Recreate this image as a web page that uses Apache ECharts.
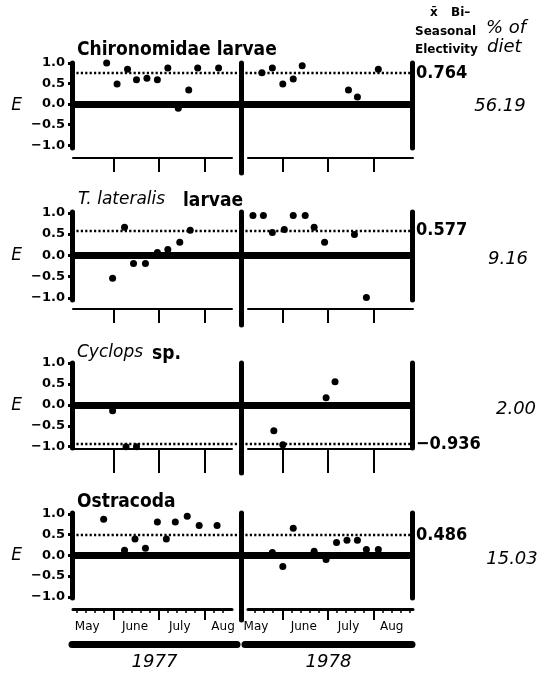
<!DOCTYPE html>
<html><head><meta charset="utf-8">
<script src="https://cdn.jsdelivr.net/npm/echarts@6/dist/echarts.min.js"></script>
<style>html,body{margin:0;padding:0;background:#fff}#c{width:549px;height:674px}</style>
</head><body><div id="c"></div>
<script>
// ---------------- data ----------------
const panelNames = ['Chironomidae larvae', 'T. lateralis larvae', 'Cyclops sp.', 'Ostracoda'];
const meanElectivity = [0.764, 0.577, -0.936, 0.486];
const percentDiet = ['56.19', '9.16', '2.00', '15.03'];
const years = ['1977', '1978'];

const chiroDates1977 = ['05-27','06-03','06-10','06-16','06-23','06-30','07-07','07-14','07-21','07-27','08-10'];
const chiroE1977     = [1.0, 0.49, 0.85, 0.59, 0.63, 0.59, 0.88, -0.1, 0.34, 0.88, 0.88];
const chiroDates1978 = ['05-18','05-25','06-01','06-08','06-14','07-15','07-21','08-04'];
const chiroE1978     = [0.76, 0.88, 0.49, 0.61, 0.93, 0.34, 0.17, 0.85];

const tlatDates1977 = ['05-31','06-08','06-14','06-22','06-30','07-07','07-15','07-22'];
const tlatE1977     = [-0.54, 0.66, -0.19, -0.19, 0.07, 0.14, 0.31, 0.59];
const tlatDates1978 = ['05-12','05-19','05-25','06-02','06-08','06-16','06-22','06-29','07-19','07-27'];
const tlatE1978     = [0.94, 0.94, 0.54, 0.61, 0.94, 0.94, 0.66, 0.31, 0.49, -0.99];

const cyclDates1977 = ['05-31','06-09','06-16'];
const cyclE1977     = [-0.14, -1.0, -1.0];
const cyclDates1978 = ['05-26','06-01','06-30','07-06'];
const cyclE1978     = [-0.62, -0.95, 0.17, 0.55];

const ostrDates1977 = ['05-25','06-08','06-15','06-22','06-30','07-06','07-12','07-20','07-28','08-09'];
const ostrE1977     = [0.87, 0.12, 0.39, 0.17, 0.8, 0.39, 0.8, 0.94, 0.72, 0.72];
const ostrDates1978 = ['05-25','06-01','06-08','06-22','06-30','07-07','07-14','07-21','07-27','08-04'];
const ostrE1978     = [0.07, -0.27, 0.65, 0.1, -0.1, 0.31, 0.36, 0.36, 0.14, 0.14];

const yTickValues = [-1, -0.5, 0, 0.5, 1];
const monthNames = ['May', 'June', 'July', 'Aug'];
const monthLabelDates = ['05-14', '06-15', '07-15', '08-13'];
const monthStartDates = ['06-01', '07-01', '08-01'];
const minorTickDates = ['05-07','05-13','05-19','05-25','06-07','06-13','06-19','06-25',
                        '07-07','07-13','07-19','07-25','08-07','08-13','08-19','08-25'];

const panelDates = [[chiroDates1977, chiroDates1978], [tlatDates1977, tlatDates1978],
                    [cyclDates1977, cyclDates1978], [ostrDates1977, ostrDates1978]];
const panelValues = [[chiroE1977, chiroE1978], [tlatE1977, tlatE1978],
                     [cyclE1977, cyclE1978], [ostrE1977, ostrE1978]];

// ---------------- layout ----------------
const L = {
  S: 1.4925,                 // px per day
  x0: [114.1, 282.8],        // px of 1 June for each year block
  plot: [[72, 241], [241, 412]],
  axisSpan: [[73, 232], [248, 413]],
  yearBar: [[72, 237], [245, 412]],
  yearBarY: 644,
  dividerX: 241,
  panels: [
    {top: 63,  bottom: 148, max: 1.0,  min: -1.07, lineY: 158, tickLen: 14, divBottom: 173, lineW: 2},
    {top: 212, bottom: 300, max: 1.02, min: -1.05, lineY: 309, tickLen: 14, divBottom: 325, lineW: 2},
    {top: 363, bottom: 448, max: 1.0,  min: -1.03, lineY: 449, tickLen: 24, divBottom: 473, lineW: 2},
    {top: 513, bottom: 598, max: 1.02, min: -1.03, lineY: 609, tickLen: 11, divBottom: 620, lineW: 3}
  ]
};
const CUM = [0,31,59,90,120,151,181,212,243,273,304,334];
function doy(s) { const [m, d] = s.split('-').map(Number); return CUM[m - 1] + d; }
function pxToDay(px, y) { return 152 + (px - L.x0[y]) / L.S; }

const FONT_COND = '"DejaVu Sans Condensed", "Liberation Sans Narrow", sans-serif';
const FONT_GEO = '"DejaVu Sans", sans-serif';
const FONT_IT = '"DejaVu Sans", sans-serif';

const grids = [], xAxes = [], yAxes = [], series = [], graphics = [];
function addGrid(g) { grids.push(Object.assign({outerBoundsMode: 'none'}, g)); return grids.length - 1; }
const hiddenY = gi => ({gridIndex: gi, type: 'value', min: 0, max: 1, show: false});
const hiddenX = gi => ({gridIndex: gi, type: 'value', min: 0, max: 1, show: false});

L.panels.forEach((P, p) => {
  for (let y = 0; y < 2; y++) {
    // ---- plot grid ----
    const gi = addGrid({left: L.plot[y][0], top: P.top, width: L.plot[y][1] - L.plot[y][0], height: P.bottom - P.top});
    const xi = xAxes.length;
    xAxes.push({gridIndex: gi, type: 'value', min: pxToDay(L.plot[y][0], y), max: pxToDay(L.plot[y][1], y), show: false});
    const yi = yAxes.length;
    if (y === 0) {
      yAxes.push({
        gridIndex: gi, type: 'value', min: P.min, max: P.max, position: 'left',
        name: 'E', nameLocation: 'middle', nameRotate: 0, nameGap: 50,
        nameTextStyle: {color: '#000', fontFamily: FONT_IT, fontStyle: 'italic', fontSize: 17},
        axisLine: {show: true, onZero: false, lineStyle: {color: '#000', width: 5}},
        axisTick: {show: true, customValues: yTickValues, length: 4, lineStyle: {color: '#000', width: 3}},
        axisLabel: {show: true, customValues: yTickValues, margin: 7, color: '#000',
          fontFamily: FONT_GEO, fontWeight: 'bold', fontSize: 13,
          formatter: v => (v < 0 ? '\u2212' : '') + Math.abs(v).toFixed(1)},
        splitLine: {show: false}
      });
    } else {
      yAxes.push({
        gridIndex: gi, type: 'value', min: P.min, max: P.max, position: 'right',
        axisLine: {show: true, onZero: false, lineStyle: {color: '#000', width: 5}},
        axisTick: {show: false}, axisLabel: {show: false}, splitLine: {show: false}
      });
    }
    const m = meanElectivity[p];
    series.push({
      type: 'line', xAxisIndex: xi, yAxisIndex: yi, data: [], z: 1, silent: true,
      markLine: {
        silent: true, symbol: 'none', animation: false,
        data: [
          {yAxis: 0, lineStyle: {color: '#000', width: 7, type: 'solid', opacity: 1}, label: {show: false}},
          {yAxis: m, lineStyle: {color: '#000', width: 2.4, type: [2.2, 2.2], opacity: 1},
           label: {show: y === 1, position: 'end', distance: 4, color: '#000',
             fontFamily: FONT_COND, fontWeight: 'bold', fontSize: 18,
             formatter: () => (m < 0 ? '\u2212' : '') + Math.abs(m).toFixed(3)}}
        ]
      }
    });
    series.push({
      type: 'scatter', xAxisIndex: xi, yAxisIndex: yi, z: 5, symbolSize: 7,
      itemStyle: {color: '#000', opacity: 1},
      data: panelDates[p][y].map((d, i) => [doy(d), panelValues[p][y][i]])
    });

    // ---- bottom date axis ----
    const bx0 = L.axisSpan[y][0], bx1 = L.axisSpan[y][1];
    const bg = addGrid({left: bx0, top: P.lineY - 10, width: bx1 - bx0, height: 10});
    const dMin = pxToDay(bx0, y), dMax = pxToDay(bx1, y);
    xAxes.push({
      gridIndex: bg, type: 'value', min: dMin, max: dMax, position: 'bottom',
      axisLine: {show: true, onZero: false, lineStyle: {color: '#000', width: P.lineW}},
      axisTick: {show: true, customValues: monthStartDates.map(doy), length: P.tickLen, lineStyle: {color: '#000', width: 2}},
      axisLabel: p === 3 ? {show: true, customValues: monthLabelDates.map(doy), margin: 12, color: '#000',
        fontFamily: FONT_GEO, fontSize: 12,
        formatter: v => monthNames[monthLabelDates.map(doy).indexOf(v)]} : {show: false},
      splitLine: {show: false}
    });
    yAxes.push(hiddenY(bg));
    if (p === 3) {
      const mg = addGrid({left: bx0, top: P.lineY - 10, width: bx1 - bx0, height: 10});
      xAxes.push({
        gridIndex: mg, type: 'value', min: dMin, max: dMax, position: 'bottom',
        axisLine: {show: false, onZero: false},
        axisTick: {show: true, customValues: minorTickDates.map(doy).filter(v => v > dMin + 1 && v < dMax - 1),
          length: 4, lineStyle: {color: '#000', width: 1.5}},
        axisLabel: {show: false}, splitLine: {show: false}
      });
      yAxes.push(hiddenY(mg));
    }
  }
  // ---- divider between years ----
  const dg = addGrid({left: L.dividerX, top: P.top, width: 1, height: P.divBottom - P.top});
  xAxes.push(hiddenX(dg));
  yAxes.push({gridIndex: dg, type: 'value', min: 0, max: 1, position: 'left',
    axisLine: {show: true, onZero: false, lineStyle: {color: '#000', width: 5}},
    axisTick: {show: false}, axisLabel: {show: false}, splitLine: {show: false}});
});

// ---- year bars ----
years.forEach((yr, y) => {
  const g = addGrid({left: L.yearBar[y][0], top: L.yearBarY - 4, width: L.yearBar[y][1] - L.yearBar[y][0], height: 4});
  xAxes.push({gridIndex: g, type: 'value', min: 0, max: 1, position: 'bottom',
    axisLine: {show: true, onZero: false, lineStyle: {color: '#000', width: 7}},
    axisTick: {show: false}, axisLabel: {show: false}, splitLine: {show: false},
    name: yr, nameLocation: 'middle', nameGap: 9,
    nameTextStyle: {color: '#000', fontFamily: FONT_IT, fontStyle: 'italic', fontSize: 18}});
  yAxes.push(hiddenY(g));
});

// ---- texts ----
function txt(x, y, text, size, family, weight, style, align) {
  return {type: 'text', x: x, y: y, silent: true,
    style: {text: text, fill: '#000', fontSize: size, fontFamily: family, fontWeight: weight || 'normal',
      fontStyle: style || 'normal', align: align || 'left', textAlign: align || 'left',
      verticalAlign: 'middle', textVerticalAlign: 'middle'}};
}
graphics.push(txt(77, 50, panelNames[0], 19, FONT_COND, 'bold'));
graphics.push(txt(78, 200, 'T. lateralis', 17, FONT_IT, 'normal', 'italic'));
graphics.push(txt(183, 201, 'larvae', 19, FONT_COND, 'bold'));
graphics.push(txt(77, 353, 'Cyclops', 17, FONT_IT, 'normal', 'italic'));
graphics.push(txt(152, 354, 'sp.', 19, FONT_COND, 'bold'));
graphics.push(txt(77, 502, panelNames[3], 19, FONT_COND, 'bold'));

const dietX = [500, 508, 516, 512];
const dietY = [106, 259, 409, 559];
percentDiet.forEach((t, i) => graphics.push(txt(dietX[i], dietY[i], t, 18, FONT_IT, 'normal', 'italic', 'center')));

graphics.push(txt(430, 13, 'x\u0304', 12, FONT_GEO, 'bold'));
graphics.push(txt(451, 13, 'Bi\u2013', 12, FONT_GEO, 'bold'));
graphics.push(txt(415, 32, 'Seasonal', 12, FONT_GEO, 'bold'));
graphics.push(txt(415, 50, 'Electivity', 12, FONT_GEO, 'bold'));
graphics.push(txt(486, 28, '% of', 18, FONT_IT, 'normal', 'italic'));
graphics.push(txt(487, 47, 'diet', 18, FONT_IT, 'normal', 'italic'));

const chart = echarts.init(document.getElementById('c'), null, {renderer: 'canvas'});
chart.setOption({
  animation: false,
  backgroundColor: '#fff',
  grid: grids, xAxis: xAxes, yAxis: yAxes, series: series, graphic: graphics
});
</script></body></html>
